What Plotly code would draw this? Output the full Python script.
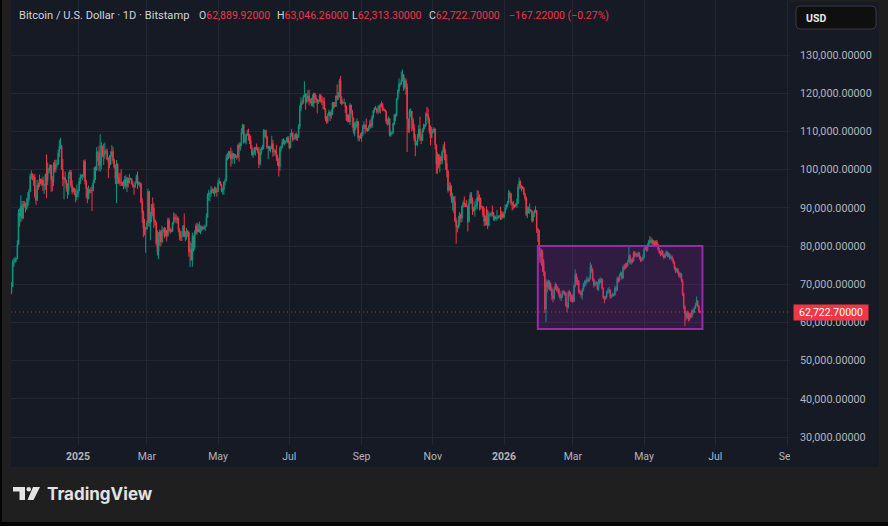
import pandas as pd
import plotly.graph_objects as go

# ---------------- data (prices in thousands of USD, one candle per day) ----------------
start_date = "2024-11-05"
first_open_k = 67.8

close_k = [
    # 2024-11 (from the 5th)
    69.4, 75.6, 75.9, 76.5, 76.7, 80.4, 88.7, 87.9, 90.5, 87.3, 91.0, 90.6, 89.8, 90.5, 92.3, 94.3, 98.3, 98.9, 97.8, 98.0, 93.0, 91.9, 95.9, 95.6, 97.5, 96.4,
    # 2024-12
    97.3, 95.9, 96.0, 98.7, 97.0, 99.9, 99.9, 101.2, 97.4, 96.7, 101.2, 100.0, 101.4, 101.4, 104.3, 106.1, 106.1, 100.0, 97.5, 97.8, 97.2, 95.1, 94.7, 98.7, 99.4, 95.8, 94.2, 95.1, 93.7, 92.8, 93.4,
    # 2025-01
    94.4, 96.9, 98.1, 98.2, 98.3, 102.1, 96.9, 95.0, 92.5, 94.7, 94.5, 94.5, 94.5, 96.5, 100.5, 99.8, 104.5, 104.4, 101.1, 102.0, 106.1, 103.7, 103.9, 104.8, 104.7, 102.6, 102.1, 101.3, 103.7, 104.7, 102.4,
    # 2025-02
    100.6, 97.7, 101.4, 97.9, 96.6, 96.6, 96.5, 96.5, 96.1, 97.4, 95.7, 97.8, 96.6, 97.5, 97.6, 96.2, 95.8, 95.6, 96.6, 98.3, 96.2, 96.6, 96.3, 91.4, 88.7, 84.7, 84.3, 84.4,
    # 2025-03
    86.0, 94.3, 86.1, 87.2, 90.6, 89.9, 86.8, 86.2, 80.7, 78.5, 82.9, 83.7, 81.1, 83.9, 84.3, 82.6, 84.1, 82.7, 86.8, 84.2, 84.0, 83.8, 86.1, 87.5, 87.4, 86.9, 87.2, 84.4, 82.6, 82.4, 82.5,
    # 2025-04
    85.2, 82.5, 83.1, 83.9, 83.5, 78.4, 79.1, 76.3, 82.6, 79.6, 83.4, 85.3, 83.7, 84.5, 83.6, 84.0, 84.9, 84.5, 85.0, 85.1, 87.5, 93.4, 93.7, 93.9, 94.7, 94.6, 93.8, 95.0, 94.3, 94.2,
    # 2025-05
    96.5, 96.9, 95.9, 94.3, 94.7, 96.8, 97.0, 103.2, 102.9, 104.7, 104.1, 102.8, 104.2, 103.5, 103.7, 103.5, 103.2, 106.4, 105.6, 106.8, 109.7, 111.7, 107.3, 107.8, 109.0, 109.4, 108.9, 107.8, 105.6, 103.9, 104.6,
    # 2025-06
    105.7, 105.8, 105.4, 104.7, 101.5, 104.4, 105.6, 105.8, 110.3, 110.3, 108.6, 105.7, 106.1, 105.4, 105.6, 106.8, 104.6, 104.9, 104.6, 103.3, 102.1, 100.9, 105.5, 106.0, 107.3, 106.9, 107.1, 107.3, 108.4, 107.1,
    # 2025-07
    105.7, 108.8, 109.6, 107.9, 108.2, 109.2, 108.3, 108.9, 111.3, 115.9, 117.5, 117.4, 119.1, 119.8, 117.7, 118.7, 119.3, 117.9, 117.9, 117.3, 117.4, 119.9, 118.8, 118.4, 117.6, 117.9, 119.4, 118.0, 117.9, 117.8, 115.8,
    # 2025-08
    113.3, 112.5, 114.2, 115.1, 114.1, 115.0, 117.5, 116.7, 116.5, 119.3, 118.7, 120.2, 123.3, 118.4, 117.4, 117.5, 117.5, 116.3, 112.9, 114.3, 112.5, 116.9, 115.4, 113.5, 110.1, 111.8, 111.3, 112.6, 108.4, 108.8, 108.3,
    # 2025-09
    109.2, 111.3, 111.7, 110.7, 110.7, 110.2, 111.2, 112.1, 111.5, 113.9, 115.5, 116.1, 115.9, 115.3, 115.4, 116.8, 116.5, 117.1, 115.7, 115.7, 115.3, 112.7, 112.0, 113.3, 109.0, 109.7, 109.7, 112.1, 114.4, 114.1,
    # 2025-10
    118.6, 120.6, 122.3, 122.4, 123.5, 124.8, 121.5, 123.3, 121.7, 113.2, 110.7, 115.2, 115.3, 113.1, 110.8, 108.2, 106.5, 107.2, 108.7, 110.6, 108.5, 107.6, 110.1, 111.0, 111.6, 114.6, 114.2, 113.0, 110.1, 108.3, 109.6,
    # 2025-11
    110.1, 110.6, 106.5, 101.5, 103.9, 101.3, 103.4, 102.3, 104.7, 106.0, 103.0, 101.6, 99.7, 94.6, 95.6, 94.2, 92.2, 92.9, 91.5, 86.6, 85.1, 84.7, 86.8, 88.3, 87.3, 90.5, 91.3, 90.9, 90.8, 90.4,
    # 2025-12
    86.3, 91.3, 93.5, 92.1, 89.4, 89.3, 90.4, 90.6, 92.7, 92.0, 92.5, 90.3, 90.3, 88.2, 86.4, 87.8, 86.2, 85.5, 88.1, 88.3, 88.6, 88.5, 87.4, 87.6, 87.2, 87.3, 87.8, 87.8, 87.1, 88.4, 87.5,
    # 2026-01
    88.7, 90.0, 90.6, 91.4, 93.9, 93.7, 91.3, 91.0, 90.6, 90.5, 90.8, 91.2, 95.4, 96.9, 95.6, 95.5, 95.1, 93.6, 92.6, 88.3, 89.4, 89.5, 89.5, 89.2, 86.6, 88.3, 89.2, 89.3, 84.6, 84.1, 78.6,
    # 2026-02
    77.2, 78.5, 75.8, 73.2, 63.5, 70.5, 69.2, 70.6, 70.1, 68.8, 67.0, 66.3, 68.8, 69.7, 68.6, 68.8, 67.5, 66.4, 66.9, 67.9, 68.0, 67.6, 64.6, 64.0, 67.9, 67.4, 65.9, 66.9,
    # 2026-03
    65.5, 69.5, 72.5, 70.5, 70.9, 68.1, 67.9, 67.2, 68.4, 69.9, 70.3, 70.6, 71.2, 70.9, 71.5, 74.5, 73.8, 71.2, 69.8, 70.2, 70.5, 68.7, 70.8, 70.5, 71.3, 69.0, 66.5, 66.3, 66.6, 67.8, 68.2,
    # 2026-04
    68.5, 66.8, 66.9, 67.3, 67.2, 69.0, 68.5, 71.5, 71.0, 72.3, 73.0, 71.6, 74.5, 74.2, 75.1, 74.8, 75.8, 77.5, 75.7, 76.3, 76.0, 78.2, 77.6, 77.9, 77.4, 78.1, 77.0, 76.3, 76.5, 76.9,
    # 2026-05
    79.2, 79.8, 78.9, 80.3, 81.2, 81.0, 81.5, 80.6, 81.2, 80.0, 81.1, 80.4, 79.2, 78.3, 77.9, 78.6, 77.5, 77.0, 77.8, 78.4, 77.4, 77.9, 76.8, 77.2, 76.5, 75.8, 74.2, 73.5, 73.9, 73.0, 72.1,
    # 2026-06 (to the 18th)
    72.6, 71.0, 67.5, 64.0, 62.3, 61.3, 62.6, 60.8, 62.0, 61.5, 63.0, 62.7, 63.8, 64.5, 65.6, 64.3, 62.88992, 62.7227,
]

high_k = [
    70.5, 76.4, 76.9, 77.2, 76.9, 81.5, 89.6, 89.9, 93.3, 91.8, 91.8, 91.8, 91.4, 92.6, 94.1, 94.9, 98.9, 99.8, 98.8, 98.6, 98.9, 94.7, 97.3, 96.6, 98.7, 97.5,
    97.8, 98.2, 96.3, 99.0, 104.0, 101.9, 100.5, 101.4, 101.2, 98.3, 101.9, 102.5, 102.6, 102.6, 105.2, 107.8, 108.3, 106.5, 102.8, 98.2, 99.5, 97.3, 96.4, 99.4, 99.9, 99.9, 97.2, 95.4, 95.2, 94.8, 96.1,
    94.9, 97.8, 98.9, 98.7, 98.8, 102.5, 102.7, 97.3, 95.3, 95.8, 94.9, 95.4, 95.9, 97.4, 100.7, 100.9, 105.9, 104.9, 106.3, 109.3, 107.2, 106.3, 106.8, 107.1, 105.3, 105.5, 103.2, 103.8, 104.8, 106.4, 105.9,
    102.8, 101.4, 102.5, 101.7, 99.0, 99.2, 100.1, 96.8, 97.2, 98.3, 98.5, 98.1, 97.8, 98.8, 97.9, 97.7, 97.0, 96.0, 96.9, 98.7, 99.5, 96.9, 96.8, 96.5, 92.5, 89.3, 87.1, 85.0,
    86.6, 95.0, 94.4, 88.9, 91.0, 92.7, 91.2, 86.9, 86.4, 84.1, 83.6, 84.3, 84.2, 85.3, 84.7, 85.0, 84.8, 84.1, 87.4, 87.4, 84.8, 84.5, 86.3, 88.8, 88.5, 88.3, 87.8, 87.5, 84.6, 83.9, 83.9,
    85.5, 88.5, 83.9, 84.7, 84.2, 83.8, 81.2, 80.8, 83.5, 82.7, 84.2, 85.9, 86.1, 85.8, 86.4, 85.4, 85.4, 85.1, 85.6, 85.3, 88.5, 93.8, 94.7, 94.0, 95.7, 95.3, 95.0, 95.6, 95.5, 95.2,
    97.4, 97.9, 96.9, 96.3, 95.2, 96.9, 97.7, 104.0, 104.3, 104.9, 104.9, 105.8, 104.9, 104.3, 104.2, 104.1, 103.7, 106.6, 107.1, 107.1, 110.8, 112.0, 111.9, 109.5, 109.3, 110.4, 110.7, 109.3, 108.9, 106.3, 104.9,
    105.9, 105.9, 106.8, 106.0, 105.9, 105.4, 105.9, 106.5, 110.6, 110.4, 110.4, 108.8, 106.2, 106.2, 106.1, 108.9, 107.8, 105.6, 105.2, 106.5, 103.9, 103.0, 106.1, 106.3, 108.0, 108.2, 107.8, 107.6, 108.5, 108.8,
    107.5, 109.6, 110.6, 109.7, 108.4, 109.5, 109.7, 109.2, 111.9, 116.8, 118.9, 118.2, 119.5, 123.1, 119.9, 120.0, 120.8, 120.9, 118.6, 118.8, 119.7, 120.2, 120.0, 119.5, 118.5, 118.3, 119.8, 119.8, 119.3, 118.8, 118.9,
    116.1, 114.0, 114.7, 115.7, 115.2, 115.7, 117.7, 117.7, 117.7, 119.3, 122.3, 120.3, 123.7, 124.5, 119.2, 117.9, 118.6, 117.6, 116.8, 114.6, 114.4, 117.4, 117.0, 115.6, 113.6, 112.4, 112.6, 113.4, 112.7, 108.9, 109.5,
    109.9, 111.7, 112.7, 111.8, 113.4, 110.9, 111.6, 112.9, 113.2, 114.3, 115.6, 116.3, 116.7, 116.1, 116.7, 117.0, 117.3, 117.9, 117.5, 116.3, 115.9, 115.4, 113.3, 113.9, 113.5, 110.3, 109.8, 112.3, 114.4, 114.7,
    118.6, 121.0, 123.9, 122.9, 125.7, 126.2, 125.0, 124.1, 123.8, 122.5, 113.4, 115.8, 116.0, 115.0, 113.6, 111.9, 109.2, 107.5, 109.4, 111.7, 113.9, 109.2, 110.8, 112.0, 111.9, 115.0, 116.4, 116.0, 113.6, 111.6, 111.2,
    110.6, 111.1, 110.8, 106.6, 104.5, 104.1, 104.0, 103.4, 105.0, 106.6, 107.3, 105.3, 104.0, 99.8, 96.8, 96.6, 95.9, 93.8, 93.0, 93.1, 87.4, 85.5, 87.9, 88.9, 88.4, 90.6, 91.9, 93.0, 91.2, 92.0,
    90.4, 92.3, 94.1, 94.1, 92.7, 90.2, 91.7, 92.3, 94.6, 94.5, 93.5, 92.7, 90.6, 90.4, 90.0, 88.0, 90.4, 89.5, 89.0, 88.6, 89.0, 90.6, 88.9, 87.9, 88.0, 89.4, 88.0, 88.1, 90.3, 89.1, 89.0,
    88.9, 90.9, 91.0, 91.8, 94.7, 94.3, 93.9, 91.6, 91.8, 90.9, 91.2, 92.4, 96.2, 97.9, 97.2, 95.9, 95.7, 95.4, 93.8, 92.9, 90.4, 90.3, 91.2, 89.7, 89.2, 88.9, 89.5, 90.5, 89.4, 84.6, 84.2,
    79.5, 79.3, 79.0, 76.6, 73.4, 71.4, 71.0, 71.2, 71.0, 70.5, 69.2, 68.4, 69.4, 70.4, 70.1, 69.5, 69.1, 68.2, 67.4, 68.4, 68.4, 68.3, 67.9, 65.2, 68.3, 68.5, 68.0, 67.3,
    67.4, 70.0, 73.9, 72.9, 71.8, 71.0, 68.6, 68.3, 69.0, 70.4, 71.0, 71.2, 72.0, 71.6, 72.0, 75.7, 75.1, 74.1, 71.5, 70.9, 70.8, 70.6, 71.3, 71.6, 71.8, 71.5, 69.2, 66.9, 67.0, 68.3, 68.9,
    69.3, 68.7, 67.3, 67.8, 67.6, 69.6, 69.4, 72.0, 71.9, 72.8, 73.4, 73.2, 74.9, 75.3, 75.6, 75.6, 76.4, 79.8, 77.8, 76.8, 77.0, 78.6, 78.7, 78.4, 78.1, 78.5, 78.4, 77.4, 77.0, 77.6,
    79.6, 80.3, 80.1, 80.7, 81.6, 82.6, 82.3, 81.9, 81.6, 81.4, 81.5, 81.6, 80.7, 79.5, 78.7, 79.1, 78.8, 77.9, 78.2, 78.9, 78.6, 78.3, 78.1, 77.6, 77.5, 76.8, 76.0, 74.6, 74.3, 74.2, 73.3,
    73.1, 72.9, 71.3, 67.8, 64.5, 63.0, 63.1, 62.9, 62.4, 62.6, 63.4, 63.5, 64.2, 65.1, 66.8, 65.9, 64.6, 63.04626,
]

low_k = [
    67.4, 69.3, 74.5, 75.6, 75.8, 76.5, 80.2, 85.1, 86.2, 86.7, 87.1, 90.1, 88.8, 89.4, 90.4, 91.6, 94.1, 97.4, 97.2, 95.8, 92.6, 90.8, 91.9, 94.7, 95.4, 96.1,
    95.7, 94.4, 93.6, 94.7, 92.5, 95.9, 99.0, 98.9, 94.2, 94.3, 95.7, 99.3, 99.2, 100.6, 101.2, 103.3, 105.3, 100.0, 95.7, 92.2, 96.4, 94.2, 92.4, 93.4, 97.6, 95.2, 93.5, 94.1, 93.3, 91.4, 92.0,
    92.8, 94.4, 96.2, 97.8, 97.3, 97.9, 96.1, 92.5, 91.2, 92.2, 93.8, 93.7, 89.2, 94.3, 96.5, 97.3, 99.9, 102.3, 99.6, 99.5, 100.1, 103.3, 101.2, 102.8, 104.1, 102.5, 97.8, 100.3, 101.3, 103.3, 101.6,
    100.3, 96.2, 91.2, 96.2, 96.2, 95.7, 95.7, 95.7, 94.8, 95.3, 94.9, 94.1, 95.3, 96.3, 97.3, 96.1, 95.2, 93.4, 95.2, 96.4, 94.9, 95.8, 95.3, 91.2, 86.1, 82.3, 82.8, 78.2,
    84.3, 85.1, 85.1, 81.5, 86.3, 87.8, 84.7, 85.3, 80.1, 77.5, 76.6, 80.1, 79.9, 80.8, 83.6, 82.0, 82.5, 81.2, 82.4, 83.7, 83.2, 83.6, 83.8, 85.6, 86.3, 85.9, 85.9, 83.6, 81.6, 81.3, 81.3,
    82.4, 82.3, 81.2, 81.7, 82.4, 77.2, 74.5, 76.2, 74.6, 78.5, 78.9, 82.8, 83.0, 83.8, 83.6, 83.1, 83.9, 84.3, 84.3, 83.9, 85.1, 87.6, 91.9, 91.7, 92.9, 93.9, 93.6, 92.9, 93.8, 92.9,
    94.2, 96.3, 95.8, 94.1, 93.5, 93.4, 95.9, 97.0, 102.4, 102.9, 103.1, 100.8, 101.5, 102.7, 101.5, 103.1, 102.6, 103.1, 102.1, 104.9, 106.2, 109.3, 106.8, 106.9, 106.6, 108.9, 107.6, 106.7, 105.4, 103.6, 103.1,
    103.9, 103.7, 105.1, 104.2, 100.4, 101.1, 103.9, 105.1, 105.3, 108.4, 108.1, 105.4, 102.7, 104.9, 104.5, 105.3, 103.4, 103.6, 103.9, 102.3, 101.0, 98.2, 99.6, 104.7, 105.6, 106.6, 106.4, 106.8, 107.3, 106.8,
    105.3, 105.6, 108.6, 107.3, 107.8, 107.9, 107.6, 107.5, 108.3, 110.6, 115.2, 116.9, 117.3, 118.9, 115.7, 117.3, 117.9, 116.8, 117.3, 116.6, 116.5, 116.2, 117.3, 117.5, 114.7, 117.2, 117.8, 117.5, 116.9, 115.8, 115.6,
    112.7, 112.0, 112.1, 114.0, 112.7, 113.4, 114.3, 115.9, 116.3, 116.5, 118.1, 118.2, 118.9, 117.2, 116.8, 117.2, 117.3, 114.8, 112.7, 112.4, 112.4, 111.7, 114.6, 111.0, 109.4, 108.7, 110.4, 110.9, 107.5, 107.4, 108.1,
    107.3, 108.8, 110.6, 109.4, 110.0, 109.9, 110.1, 110.6, 110.8, 110.9, 113.4, 114.9, 115.7, 114.7, 114.5, 114.8, 114.7, 116.3, 115.3, 115.4, 115.2, 112.0, 111.5, 111.7, 108.7, 108.6, 109.1, 109.3, 111.6, 112.7,
    113.9, 118.2, 119.9, 121.7, 122.2, 123.1, 120.6, 121.1, 119.6, 104.6, 109.6, 109.7, 113.8, 110.1, 110.2, 107.5, 103.5, 106.4, 106.1, 108.0, 107.5, 106.7, 107.5, 109.8, 110.6, 111.2, 113.8, 112.1, 109.4, 106.3, 108.7,
    109.4, 109.8, 105.3, 98.9, 98.9, 100.3, 99.3, 101.4, 101.4, 104.5, 102.5, 100.0, 98.0, 94.0, 94.6, 93.0, 91.3, 89.3, 88.6, 86.2, 80.6, 83.6, 84.7, 85.3, 86.1, 86.3, 90.0, 90.2, 90.2, 90.3,
    83.8, 86.2, 91.1, 91.0, 88.1, 88.9, 87.7, 89.6, 89.6, 91.6, 89.3, 89.5, 89.8, 87.6, 85.2, 85.3, 85.4, 84.4, 85.1, 87.9, 87.6, 87.8, 86.6, 86.5, 86.9, 86.6, 87.2, 87.4, 86.8, 86.9, 87.3,
    87.2, 88.5, 89.5, 90.2, 91.0, 92.5, 90.6, 89.3, 89.6, 90.0, 90.2, 90.0, 91.0, 94.8, 95.0, 94.3, 94.8, 93.3, 91.9, 87.8, 87.3, 88.5, 88.4, 88.9, 86.1, 86.4, 87.6, 88.7, 83.4, 81.1, 75.8,
    75.5, 74.8, 73.2, 72.1, 62.5, 60.1, 67.9, 68.6, 68.4, 68.2, 65.9, 65.3, 65.9, 68.5, 68.1, 67.8, 66.8, 66.0, 65.6, 66.4, 67.4, 67.0, 64.1, 62.6, 63.6, 66.8, 65.4, 65.3,
    65.1, 65.3, 69.2, 69.8, 69.7, 67.6, 67.3, 66.5, 66.0, 68.1, 69.2, 69.5, 70.1, 70.5, 70.6, 71.2, 73.0, 70.8, 69.1, 69.4, 69.9, 68.4, 68.2, 69.9, 70.2, 68.6, 66.1, 65.0, 65.8, 66.2, 67.4,
    67.8, 66.2, 66.3, 66.7, 66.8, 67.0, 67.9, 68.3, 70.4, 70.7, 72.1, 71.2, 71.4, 73.6, 73.9, 74.2, 74.5, 75.6, 75.2, 75.1, 75.5, 75.8, 77.0, 77.1, 77.0, 77.2, 76.5, 75.8, 75.9, 76.1,
    76.7, 78.9, 78.5, 78.6, 80.0, 80.4, 80.7, 80.1, 80.3, 79.7, 79.8, 79.9, 78.8, 77.9, 77.3, 77.6, 77.2, 76.5, 76.8, 77.4, 77.0, 77.1, 76.4, 76.5, 76.1, 75.3, 73.8, 72.9, 73.1, 72.6, 71.7,
    71.6, 70.5, 66.9, 63.4, 59.1, 60.5, 60.9, 60.2, 60.4, 61.0, 61.2, 62.1, 62.5, 63.5, 64.3, 63.9, 62.5, 62.3133,
]

x_tick_dates = ["2025-01-01", "2025-03-01", "2025-05-01", "2025-07-01", "2025-09-01", "2025-11-01",
                "2026-01-01", "2026-03-01", "2026-05-01", "2026-07-01", "2026-09-01"]
x_tick_labels = ["<b>2025</b>", "Mar", "May", "Jul", "Sep", "Nov", "<b>2026</b>", "Mar", "May", "Jul", "Sep"]
y_tick_values = [30000, 40000, 50000, 60000, 70000, 80000, 90000, 100000, 110000, 120000, 130000]

symbol_title = "Bitcoin / U.S. Dollar · 1D · Bitstamp"
currency = "USD"

# drawn range box
box_start, box_end = "2026-01-30", "2026-06-20"
box_low, box_high = 58300, 80000

# ---------------- build ----------------
assert len(close_k) == len(high_k) == len(low_k)
dates = pd.date_range(start_date, periods=len(close_k), freq="D")
close = [v * 1000 for v in close_k]
high = [v * 1000 for v in high_k]
low = [v * 1000 for v in low_k]
open_ = [first_open_k * 1000] + close[:-1]

UP = "#089981"
DOWN = "#f23645"
PANEL = "#161a25"
GRID = "#232633"
AXIS_TXT = "#b2b5be"
OUTER = "#1f1f1f"
FONT = "Roboto"

W, H = 888, 526
PL, PR, PT, PB = 11, 790, 0, 445


def fx(px):
    return (px - PL) / (PR - PL)


def fy(py):
    return (PB - py) / (PB - PT)


def rrect(x0, y0, x1, y1, r):
    a, b, c, d = fx(x0), fx(x1), fy(y0), fy(y1)
    rx = r / (PR - PL)
    ry = r / (PB - PT)
    return (f"M {a+rx},{c} L {b-rx},{c} Q {b},{c} {b},{c-ry} L {b},{d+ry} Q {b},{d} {b-rx},{d} "
            f"L {a+rx},{d} Q {a},{d} {a},{d+ry} L {a},{c-ry} Q {a},{c} {a+rx},{c} Z")


fig = go.Figure(go.Candlestick(
    x=dates, open=open_, high=high, low=low, close=close,
    increasing=dict(line=dict(color=UP, width=1), fillcolor=UP),
    decreasing=dict(line=dict(color=DOWN, width=1), fillcolor=DOWN),
    whiskerwidth=0, hoverinfo="skip",
))

shapes = []
# chart panel
shapes.append(dict(type="rect", xref="paper", yref="paper", x0=fx(11), x1=fx(879), y0=fy(2), y1=fy(467),
                   fillcolor=PANEL, line=dict(width=0), layer="below"))
# outer dark edges
shapes.append(dict(type="rect", xref="paper", yref="paper", x0=fx(0), x1=fx(2), y0=fy(0), y1=fy(526),
                   fillcolor="#050505", line=dict(width=0), layer="below"))
shapes.append(dict(type="rect", xref="paper", yref="paper", x0=fx(0), x1=fx(888), y0=fy(522), y1=fy(526),
                   fillcolor="#050505", line=dict(width=0), layer="below"))
# range box
shapes.append(dict(type="rect", xref="x", yref="y", x0=box_start, x1=box_end, y0=box_low, y1=box_high,
                   fillcolor="rgba(156,39,176,0.2)", line=dict(color="#9c27b0", width=2), layer="above"))
# last price dotted line
shapes.append(dict(type="line", xref="paper", yref="y", x0=0, x1=1, y0=close[-1], y1=close[-1],
                   line=dict(color="rgba(242,54,69,0.75)", width=1, dash="1px,3px"), layer="above"))
# cover for the clipped last time label
shapes.append(dict(type="rect", xref="paper", yref="paper", x0=fx(790), x1=fx(879), y0=fy(446), y1=fy(467),
                   fillcolor=PANEL, line=dict(width=0), layer="above"))
# currency button
shapes.append(dict(type="path", xref="paper", yref="paper", path=rrect(796, 6, 876, 29, 4),
                   fillcolor="#0f0f0f", line=dict(color="#3a3a3a", width=1), layer="above"))
# TradingView logo glyph
LOGO = "#e3e3e3"
shapes.append(dict(type="rect", xref="paper", yref="paper", x0=fx(13), x1=fx(25), y0=fy(487), y1=fy(491.5),
                   fillcolor=LOGO, line=dict(width=0), layer="above"))
shapes.append(dict(type="rect", xref="paper", yref="paper", x0=fx(19.5), x1=fx(25), y0=fy(487), y1=fy(500),
                   fillcolor=LOGO, line=dict(width=0), layer="above"))
shapes.append(dict(type="circle", xref="paper", yref="paper", x0=fx(26.5), x1=fx(31), y0=fy(487), y1=fy(491.5),
                   fillcolor=LOGO, line=dict(width=0), layer="above"))
shapes.append(dict(type="path", xref="paper", yref="paper",
                   path=f"M {fx(33)},{fy(487)} L {fx(40)},{fy(487)} L {fx(33.5)},{fy(500)} L {fx(27.5)},{fy(500)} Z",
                   fillcolor=LOGO, line=dict(width=0), layer="above"))

last_o, last_h, last_l, last_c = open_[-1], high[-1], low[-1], close[-1]
chg = last_c - last_o
pct = chg / last_o * 100


def money(v):
    s = f"{abs(v):,.5f}"
    return ("\u2212" if v < 0 else "") + s


red = lambda s: f"<span style='color:{DOWN}'>{s}</span>"
LBL = "#d1d4dc"
header_parts = [
    (18, symbol_title, 11.1),
    (198, "O" + red(money(last_o)), 10.5),
    (276, "H" + red(money(last_h)), 10.5),
    (351, "L" + red(money(last_l)), 10.5),
    (428, "C" + red(money(last_c)), 10.5),
    (508, red(f"{money(chg)} ({'\u2212' if pct < 0 else ''}{abs(pct):.2f}%)"), 10.5),
]

annotations = []
for px, txt, sz in header_parts:
    annotations.append(dict(xref="paper", yref="paper", x=fx(px), y=fy(16), xanchor="left", yanchor="middle",
                            text=txt, showarrow=False, font=dict(family=FONT, size=sz, color=LBL),
                            borderpad=0))
annotations.append(dict(xref="paper", yref="paper", x=fx(804), y=fy(18), xanchor="left", yanchor="middle",
                        text=f"<b>{currency}</b>", showarrow=False, font=dict(family=FONT, size=10.5, color="#e8e8e8")))
annotations.append(dict(xref="paper", yref="y", x=fx(793), y=last_c, xanchor="left", yanchor="middle",
                        text=f"{last_c:,.5f}", showarrow=False, bgcolor=DOWN, width=72, height=13, borderpad=1,
                        font=dict(family=FONT, size=10.5, color="#ffffff")))
annotations.append(dict(xref="paper", yref="paper", x=fx(45), y=fy(494), xanchor="left", yanchor="middle",
                        text="<b>TradingView</b>", showarrow=False,
                        font=dict(family="Inter", size=17, color=LOGO)))

fig.update_layout(
    width=W, height=H,
    margin=dict(l=PL, r=W - PR, t=PT, b=H - PB),
    paper_bgcolor=OUTER, plot_bgcolor=PANEL,
    showlegend=False,
    shapes=shapes, annotations=annotations,
    xaxis=dict(type="date", range=["2024-11-04 14:00", "2026-09-03 01:00"],
               tickvals=x_tick_dates, ticktext=x_tick_labels,
               showgrid=True, gridcolor=GRID, gridwidth=1, zeroline=False, showline=False, ticks="",
               tickfont=dict(family=FONT, size=10.5, color=AXIS_TXT), ticklabelstandoff=3,
               rangeslider=dict(visible=False), fixedrange=True),
    yaxis=dict(side="right", range=[27906, 144398], tickvals=y_tick_values, tickformat=",.5f",
               showgrid=True, gridcolor=GRID, gridwidth=1, zeroline=False, showline=False, ticks="",
               tickfont=dict(family=FONT, size=10.8, color=AXIS_TXT), ticklabelstandoff=9,
               fixedrange=True),
)

fig.write_html("out.html")
